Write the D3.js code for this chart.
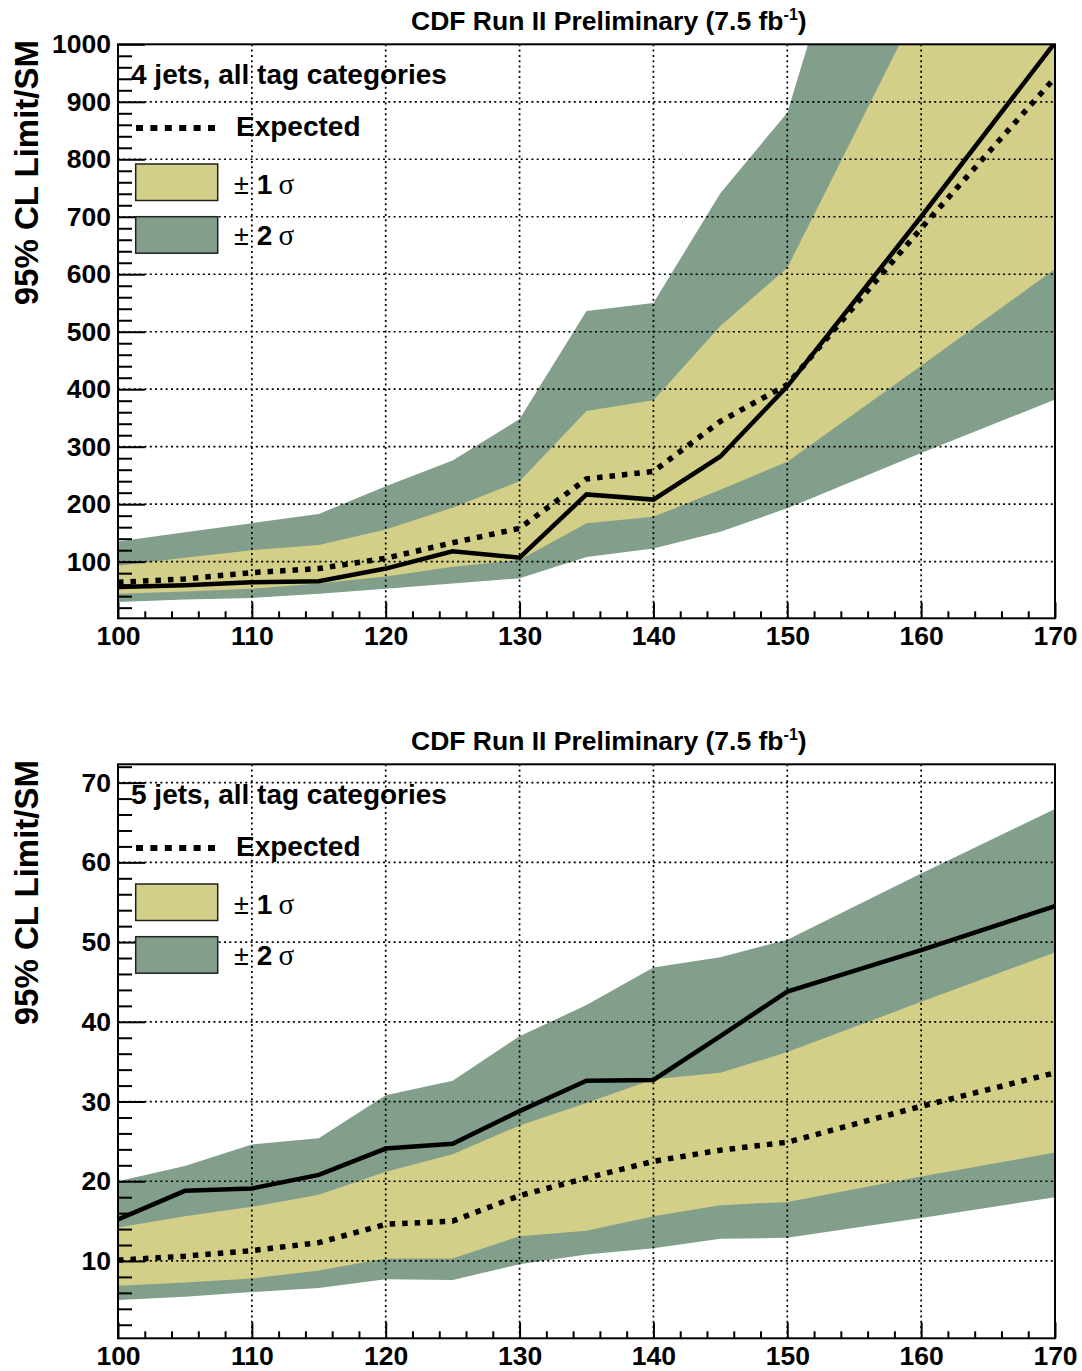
<!DOCTYPE html>
<html>
<head>
<meta charset="utf-8">
<script src="https://cdn.jsdelivr.net/npm/d3@7"></script>
<style>
  html, body { margin: 0; padding: 0; background: #fff; }
  svg { display: block; }
  text { font-family: "Liberation Sans", Arial, Helvetica, sans-serif; }
</style>
</head>
<body>
<svg id="chart" width="1082" height="1371"></svg>
<script>
// ---------------- DATA ----------------
const masses = [100, 105, 110, 115, 120, 125, 130, 135, 140, 145, 150, 160, 170];

// 4 jets, all tag categories
const obs4   = [56, 59, 64, 66, 88, 118, 107, 217, 208, 283, 405, 700, 1003];
const exp4   = [64, 70, 81, 88, 106, 133, 158, 244, 257, 344, 408, 680, 942];
const up2_4  = [135, 151, 167, 183, 231, 276, 348, 536, 550, 741, 881, 1650, 2400];
const up1_4  = [93, 107, 120, 129, 156, 194, 240, 362, 381, 510, 611, 1075, 1550];
const lo1_4  = [44, 48, 53, 62, 74, 91, 103, 167, 178, 225, 274, 441, 609];
const lo2_4  = [30, 34, 37, 44, 53, 62, 71, 108, 123, 152, 193, 289, 382];

// 5 jets, all tag categories
const obs5   = [15.2, 18.8, 19.1, 20.8, 24.1, 24.7, 28.8, 32.6, 32.7, 38.2, 43.8, 49.0, 54.5];
const exp5   = [10.1, 10.6, 11.3, 12.3, 14.6, 15.0, 18.2, 20.4, 22.5, 23.9, 24.9, 29.4, 33.6];
const up2_5  = [20.0, 21.9, 24.6, 25.4, 30.8, 32.6, 38.2, 42.1, 46.8, 48.1, 50.3, 58.6, 66.7];
const up1_5  = [14.2, 15.6, 16.8, 18.3, 21.2, 23.4, 27.0, 29.8, 32.8, 33.6, 36.2, 42.5, 48.7];
const lo1_5  = [6.9, 7.3, 7.8, 8.8, 10.3, 10.3, 13.1, 13.8, 15.6, 17.0, 17.4, 20.6, 23.6];
const lo2_5  = [5.1, 5.5, 6.1, 6.6, 7.7, 7.6, 9.6, 10.8, 11.6, 12.8, 12.9, 15.4, 18.0];

// tick labels
const xTicks = [100, 110, 120, 130, 140, 150, 160, 170];
const yTicks4 = [100, 200, 300, 400, 500, 600, 700, 800, 900, 1000];
const yTicks5 = [10, 20, 30, 40, 50, 60, 70];

const titleText = "CDF Run II Preliminary (7.5 fb";
const yTitle = "95% CL Limit/SM";
const label4 = "4 jets, all tag categories";
const label5 = "5 jets, all tag categories";
const legendExpected = "Expected";

// ---------------- STYLE ----------------
const C_1S = "#d3cf88";
const C_2S = "#829f8c";

const svg = d3.select("#chart");

const X0 = 118, X1 = 1055;
const x = d3.scaleLinear().domain([100, 170]).range([X0, X1]);

const panels = [
  { off: 0,   yDomain: [1.5, 1000], yTicks: yTicks4, yMinorStep: 20, yMinorMax: 1000,
    obs: obs4, exp: exp4, up1: up1_4, lo1: lo1_4, up2: up2_4, lo2: lo2_4, label: label4 },
  { off: 720, yDomain: [0.3, 72.3], yTicks: yTicks5, yMinorStep: 2, yMinorMax: 72.3,
    obs: obs5, exp: exp5, up1: up1_5, lo1: lo1_5, up2: up2_5, lo2: lo2_5, label: label5 }
];

const TOP = 44.3, BOT = 618.3;

panels.forEach((p, pi) => {
  const g = svg.append("g").attr("transform", `translate(0,${p.off})`);
  const y = d3.scaleLinear().domain(p.yDomain).range([BOT, TOP]);

  const clipId = "clip" + pi;
  g.append("clipPath").attr("id", clipId)
    .append("rect").attr("x", X0).attr("y", TOP).attr("width", X1 - X0).attr("height", BOT - TOP);

  const rows = masses.map((m, i) => ({ m, obs: p.obs[i], exp: p.exp[i], up1: p.up1[i], lo1: p.lo1[i], up2: p.up2[i], lo2: p.lo2[i] }));

  const plot = g.append("g").attr("clip-path", `url(#${clipId})`);

  // bands
  plot.append("path").datum(rows)
    .attr("fill", C_2S)
    .attr("d", d3.area().x(d => x(d.m)).y0(d => y(d.lo2)).y1(d => y(d.up2)));
  plot.append("path").datum(rows)
    .attr("fill", C_1S)
    .attr("d", d3.area().x(d => x(d.m)).y0(d => y(d.lo1)).y1(d => y(d.up1)));

  // grid
  const grid = g.append("g").attr("stroke", "#000").attr("stroke-width", 1.7)
    .attr("stroke-dasharray", "2,3.3").attr("fill", "none");
  xTicks.filter(t => t > 100 && t < 170).forEach(t => {
    grid.append("line").attr("x1", x(t)).attr("x2", x(t)).attr("y1", TOP).attr("y2", BOT);
  });
  p.yTicks.filter(t => y(t) > TOP + 1).forEach(t => {
    grid.append("line").attr("x1", X0).attr("x2", X1).attr("y1", y(t)).attr("y2", y(t));
  });

  // lines
  const plotLines = g.append("g").attr("clip-path", `url(#${clipId})`);
  plotLines.append("path").datum(rows)
    .attr("fill", "none").attr("stroke", "#000").attr("stroke-width", 5.5)
    .attr("stroke-dasharray", "5.5,7")
    .attr("d", d3.line().x(d => x(d.m)).y(d => y(d.exp)));
  plotLines.append("path").datum(rows)
    .attr("fill", "none").attr("stroke", "#000").attr("stroke-width", 4.5)
    .attr("stroke-linejoin", "miter")
    .attr("d", d3.line().x(d => x(d.m)).y(d => y(d.obs)));

  // axes
  const fontTick = "bold 26.5px 'Liberation Sans', Arial, sans-serif";
  const fmt = d3.format("d");
  const xMinor = d3.range(102, 170, 2).filter(v => v % 10 !== 0);
  const xAxisMinor = d3.axisBottom(x).tickValues(xMinor).tickSizeInner(-7).tickSizeOuter(0).tickFormat("");
  const xAxis = d3.axisBottom(x).tickValues(xTicks).tickSizeInner(-16).tickSizeOuter(0).tickPadding(8).tickFormat(fmt);
  const gxm = g.append("g").attr("transform", `translate(0,${BOT})`).call(xAxisMinor);
  const gx = g.append("g").attr("transform", `translate(0,${BOT})`).call(xAxis);

  const yMinor = d3.range(p.yMinorStep, p.yMinorMax, p.yMinorStep)
    .filter(v => !p.yTicks.some(t => Math.abs(t - v) < 1e-6) && v > p.yDomain[0]);
  const yAxisMinor = d3.axisLeft(y).tickValues(yMinor).tickSizeInner(-14).tickSizeOuter(0).tickFormat("");
  const yAxis = d3.axisLeft(y).tickValues(p.yTicks).tickSizeInner(-27).tickSizeOuter(0).tickPadding(7).tickFormat(fmt);
  const gym = g.append("g").attr("transform", `translate(${X0},0)`).call(yAxisMinor);
  const gy = g.append("g").attr("transform", `translate(${X0},0)`).call(yAxis);

  [gx, gxm, gy, gym].forEach(a => {
    a.select(".domain").remove();
    a.selectAll(".tick line").attr("stroke", "#000").attr("stroke-width", 2);
    a.selectAll(".tick text").style("font", fontTick).attr("fill", "#000");
  });

  // frame
  g.append("rect").attr("x", X0).attr("y", TOP).attr("width", X1 - X0).attr("height", BOT - TOP)
    .attr("fill", "none").attr("stroke", "#000").attr("stroke-width", 2);

  // title
  const t = g.append("text").attr("x", 411).attr("y", 30)
    .style("font", "bold 26.5px 'Liberation Sans', Arial, sans-serif");
  t.append("tspan").text(titleText);
  t.append("tspan").attr("dy", -10).style("font-size", "16px").text("-1");
  t.append("tspan").attr("dy", 10).text(")");

  // y title
  g.append("text").attr("transform", "translate(38,40) rotate(-90)")
    .attr("text-anchor", "end")
    .style("font", "bold 33px 'Liberation Sans', Arial, sans-serif")
    .text(yTitle);

  // legend
  const lf = "bold 28px 'Liberation Sans', Arial, sans-serif";
  g.append("text").attr("x", 131).attr("y", 84).style("font", lf).text(p.label);

  g.append("line").attr("x1", 136).attr("x2", 215).attr("y1", 128).attr("y2", 128)
    .attr("stroke", "#000").attr("stroke-width", 6).attr("stroke-dasharray", "7,7.4");
  g.append("text").attr("x", 236).attr("y", 136).style("font", lf).text(legendExpected);

  const boxes = [
    { y0: 164, fill: C_1S, n: "1", base: 193.5 },
    { y0: 216.7, fill: C_2S, n: "2", base: 245 }
  ];
  boxes.forEach(b => {
    g.append("rect").attr("x", 135.7).attr("y", b.y0).attr("width", 82).attr("height", 36.5)
      .attr("fill", b.fill).attr("stroke", "#222").attr("stroke-width", 1.5);
    const tt = g.append("text").attr("x", 234).attr("y", b.base);
    tt.append("tspan").style("font", "normal 27px 'Liberation Sans', Arial, sans-serif").text("\u00B1");
    tt.append("tspan").attr("dx", 8).style("font", lf).text(b.n);
    tt.append("tspan").attr("dx", 6).style("font", "normal 29px 'Liberation Serif', 'Times New Roman', serif").text("\u03C3");
  });
});
</script>
</body>
</html>
